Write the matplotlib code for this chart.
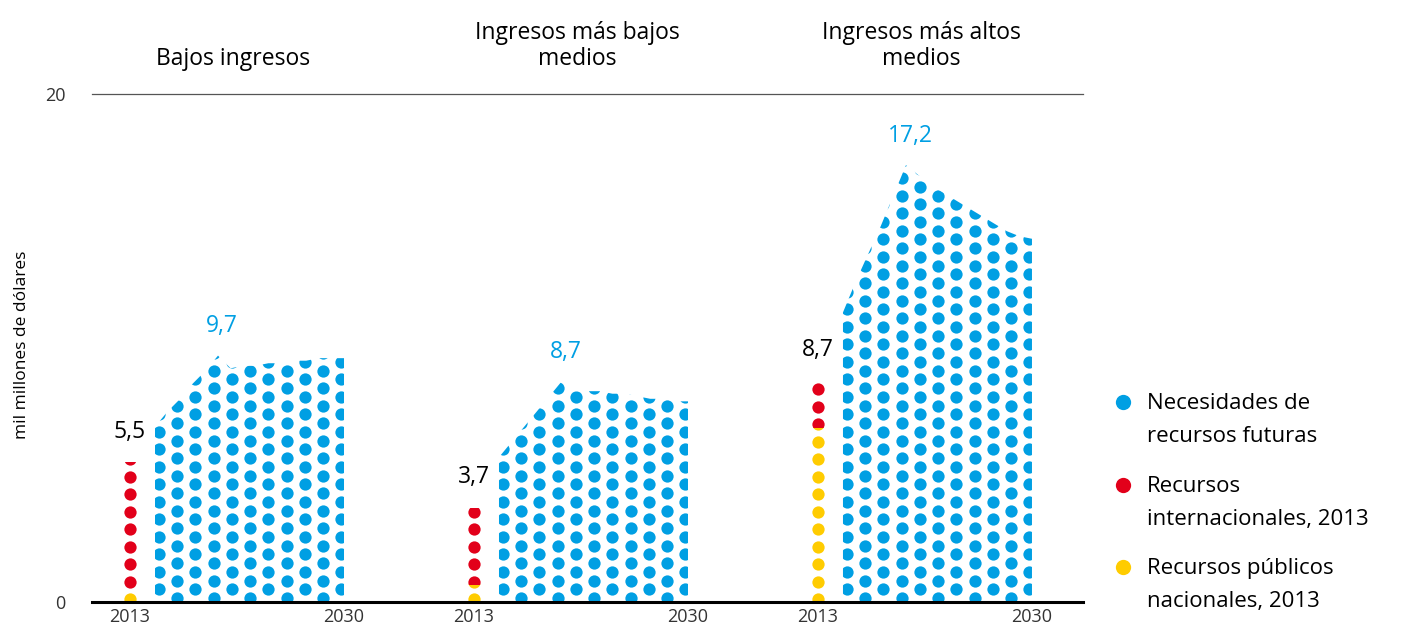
import numpy as np
import matplotlib.pyplot as plt
from matplotlib.patches import Polygon, Rectangle
from matplotlib.lines import Line2D

plt.rcParams["font.family"] = ["Open Sans", "DejaVu Sans"]

BLUE = "#009fe3"
RED = "#e2001a"
YELLOW = "#ffcc00"

groups = ["Bajos ingresos", "Ingresos más bajos\nmedios", "Ingresos más altos\nmedios"]

# 2013 resources (domestic public, international), mil millones de dólares
public_2013 = [0.5, 0.7, 6.9]
intl_2013 = [5.0, 3.0, 1.8]

# future resource needs, 2015-2030
need_years = list(range(2015, 2031))
needs = [
    [6.9, 7.5, 8.0, 8.6, 9.1, 9.7, 9.2, 9.3, 9.3, 9.4, 9.4, 9.5, 9.5, 9.6, 9.6, 9.6],
    [5.7, 6.3, 6.9, 7.5, 8.1, 8.7, 8.3, 8.3, 8.3, 8.2, 8.2, 8.1, 8.0, 8.0, 7.9, 7.9],
    [11.4, 12.6, 13.7, 14.8, 16.0, 17.2, 16.8, 16.4, 16.1, 15.8, 15.5, 15.2, 14.9, 14.6, 14.4, 14.3],
]

legend_labels = ["Necesidades de\nrecursos futuras",
                 "Recursos\ninternacionales, 2013",
                 "Recursos públicos\nnacionales, 2013"]

GAP = 27.3            # horizontal offset between the three panels, in years
DX, DY = 1.45, 0.689  # dot pattern spacing
DOT = 78

fig = plt.figure(figsize=(14.02, 6.28), dpi=100)
ax = fig.add_axes([92 / 1402, 26 / 628, 991 / 1402, 508 / 628])
ax.set_xlim(2010.0, 2088.65)
ax.set_ylim(0, 20)
for s in ax.spines.values():
    s.set_visible(False)


def dotted(xs, ys, color, clip):
    sc = ax.scatter(xs, ys, s=DOT, color=color, linewidths=0, zorder=2)
    sc.set_clip_path(clip)


xticks = []
for gi, title in enumerate(groups):
    off = gi * GAP
    x13 = 2013 + off

    # 2013 column: domestic public at the bottom, international on top
    rows = np.arange(0.1, 20, DY)
    cols = np.full_like(rows, x13)
    pub, tot = public_2013[gi], public_2013[gi] + intl_2013[gi]
    dotted(cols, rows, YELLOW, Rectangle((x13 - 1, 0), 2, pub, transform=ax.transData))
    dotted(cols, rows, RED, Rectangle((x13 - 1, pub), 2, tot - pub, transform=ax.transData))
    ax.annotate(f"{tot:.1f}".replace(".", ","), (x13, tot), xytext=(0, 22),
                textcoords="offset points", ha="center", va="center",
                fontsize=16.5, color="black")

    # future needs: dot pattern clipped to the area under the curve
    xs = [y + off for y in need_years]
    vals = needs[gi]
    outline = Polygon([(xs[0], 0)] + list(zip(xs, vals)) + [(xs[-1], 0)],
                      closed=True, transform=ax.transData)
    px, py = [], []
    for i, cx in enumerate(np.arange(xs[0] + 0.3, xs[-1], DX)):
        r = np.arange(0.51 if i % 2 == 0 else 0.155, 20, DY)
        px.extend([cx] * len(r))
        py.extend(r)
    dotted(px, py, BLUE, outline)
    peak = int(np.argmax(vals))
    ax.annotate(f"{vals[peak]:.1f}".replace(".", ","), (xs[peak], vals[peak]),
                xytext=(3, 21), textcoords="offset points", ha="center",
                va="center", fontsize=16.5, color=BLUE)

    ax.text(2013 + off + 8.2, 1.045, title, transform=ax.get_xaxis_transform(),
            ha="center", va="bottom", fontsize=16.5, linespacing=1.12)
    xticks += [x13, 2030 + off]

ax.axhline(0, color="black", lw=2.2, zorder=3, clip_on=False)
ax.axhline(20, color="#555555", lw=0.9, zorder=1, clip_on=False)

ax.set_xticks(xticks)
ax.set_xticklabels(["2013", "2030"] * 3)
ax.set_yticks([0, 20])
ax.set_yticklabels(["0", "20"])
ax.tick_params(length=0, labelsize=13, labelcolor="#333333")
ax.tick_params(axis="y", pad=19)
ax.tick_params(axis="x", pad=4)
ax.set_ylabel("mil millones de dólares", fontsize=12.5)
ax.yaxis.set_label_coords(-0.063, 0.506)

# legend
for color, label, y in zip([BLUE, RED, YELLOW], legend_labels, [402, 485, 567]):
    fy = 1 - y / 628
    fig.add_artist(Line2D([1123 / 1402], [fy], marker="o", markersize=11,
                          color=color, markeredgewidth=0,
                          transform=fig.transFigure))
    fig.text(1147 / 1402, fy + 9 / 628, label, ha="left", va="top",
             fontsize=16, linespacing=1.72)

fig.savefig("out.png", dpi=100)
